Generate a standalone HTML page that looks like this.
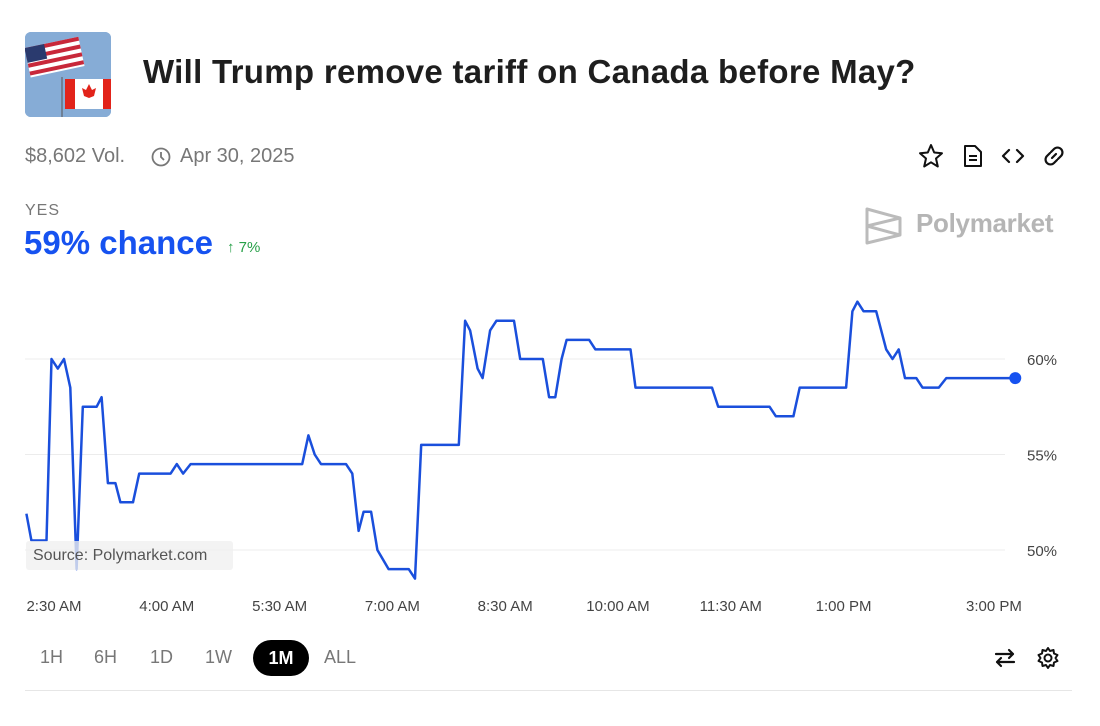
<!DOCTYPE html>
<html><head><meta charset="utf-8">
<style>
body{margin:0;width:1100px;height:726px;background:#fff;font-family:"Liberation Sans",sans-serif;overflow:hidden;position:relative}
.a{position:absolute;white-space:nowrap}
</style></head><body>
<div class="a" style="left:25px;top:32px;width:86px;height:85px;border-radius:6px;overflow:hidden;background:#7ba3cf">
<svg width="86" height="85">
<rect width="86" height="85" fill="#86acd6"/>
<g transform="rotate(-12 30 25)"><rect x="2" y="10" width="55" height="30" fill="#fff"/>
<rect x="2" y="10" width="55" height="4" fill="#c8283a"/><rect x="2" y="18" width="55" height="4" fill="#c8283a"/><rect x="2" y="26" width="55" height="4" fill="#c8283a"/><rect x="2" y="34" width="55" height="4" fill="#c8283a"/>
<rect x="2" y="10" width="20" height="15" fill="#2a3a6e"/></g>
<line x1="37" y1="45" x2="37" y2="85" stroke="#555" stroke-width="1"/>
<rect x="40" y="47" width="46" height="30" fill="#fff"/><rect x="40" y="47" width="10" height="30" fill="#e2231a"/><rect x="78" y="47" width="8" height="30" fill="#e2231a"/>
<path d="M64 52 L67 58 L71 56 L69 64 L64 66 L59 64 L57 56 L61 58 Z" fill="#e2231a"/>
</svg></div>
<div class="a" style="left:143px;top:53px;font-size:33px;font-weight:bold;color:#1e1e1e;letter-spacing:0.3px">Will Trump remove tariff on Canada before May?</div>
<div class="a" style="left:25px;top:145px;font-size:20px;color:#777">$8,602 Vol.</div>
<svg class="a" style="left:151px;top:147px" width="20" height="20"><circle cx="10" cy="10" r="8.5" fill="none" stroke="#777" stroke-width="1.8"/><path d="M10 5 V10 L13 13" fill="none" stroke="#777" stroke-width="1.8"/></svg>
<div class="a" style="left:180px;top:145px;font-size:20px;color:#777">Apr 30, 2025</div>
<svg class="a" style="left:918px;top:143px" width="26" height="26"><path d="M13 2 L16.2 9.5 L24 10.2 L18 15.5 L19.8 23.5 L13 19.3 L6.2 23.5 L8 15.5 L2 10.2 L9.8 9.5 Z" fill="none" stroke="#111" stroke-width="2" stroke-linejoin="round"/></svg>
<svg class="a" style="left:962px;top:144px" width="22" height="24"><path d="M3 2 H13 L19 8 V22 H3 Z" fill="none" stroke="#111" stroke-width="2" stroke-linejoin="round"/><path d="M7 12 H15 M7 16 H15" stroke="#111" stroke-width="2"/></svg>
<svg class="a" style="left:1001px;top:146px" width="24" height="20"><path d="M8 4 L2 10 L8 16 M16 4 L22 10 L16 16" fill="none" stroke="#111" stroke-width="2.2" stroke-linecap="round" stroke-linejoin="round"/></svg>
<svg class="a" style="left:1042px;top:144px" width="24" height="24"><path d="M10 14 L14 10 M9 8 L12 5 A4 4 0 0 1 19 12 L16 15 M15 16 L12 19 A4 4 0 0 1 5 12 L8 9" fill="none" stroke="#111" stroke-width="2.2" stroke-linecap="round"/></svg>
<div class="a" style="left:25px;top:202px;font-size:16px;color:#777;letter-spacing:1px">YES</div>
<div class="a" style="left:24px;top:224px;font-size:33px;font-weight:bold;color:#1652f0">59% chance</div>
<div class="a" style="left:227px;top:239px;font-size:15px;color:#27a048">↑ 7%</div>
<svg class="a" style="left:864px;top:205px" width="40" height="40"><path d="M3 4 L36 13 V30 L3 38 Z M3 21 L36 13 M3 21 L36 30" fill="none" stroke="#bbb" stroke-width="3" stroke-linejoin="round"/></svg>
<div class="a" style="left:916px;top:208px;font-size:26px;color:#b5b5b5;font-weight:bold;letter-spacing:-0.3px">Polymarket</div>

<svg class="a" id="chart" style="left:0;top:0" width="1100" height="726"></svg>

<div class="a" style="left:26px;top:541px;width:207px;height:29px;background:rgba(240,240,240,0.78);border-radius:3px;font-size:16px;color:#555;line-height:29px;padding-left:7px;box-sizing:border-box">Source: Polymarket.com</div>

<div class="a" style="left:40px;top:647px;font-size:18px;color:#777">1H</div>
<div class="a" style="left:94px;top:647px;font-size:18px;color:#777">6H</div>
<div class="a" style="left:150px;top:647px;font-size:18px;color:#777">1D</div>
<div class="a" style="left:205px;top:647px;font-size:18px;color:#777">1W</div>
<div class="a" style="left:253px;top:640px;width:56px;height:36px;border-radius:18px;background:#000;color:#fff;font-size:18px;font-weight:bold;text-align:center;line-height:36px">1M</div>
<div class="a" style="left:324px;top:647px;font-size:18px;color:#777">ALL</div>
<svg class="a" style="left:993px;top:646px" width="24" height="24"><path d="M3 8 H20 M16 4 L20 8 L16 12 M21 16 H4 M8 12 L4 16 L8 20" fill="none" stroke="#111" stroke-width="2.2" stroke-linecap="round" stroke-linejoin="round"/></svg>
<svg class="a" style="left:1036px;top:646px" width="24" height="24"><circle cx="12" cy="12" r="3.5" fill="none" stroke="#111" stroke-width="2"/><path d="M12 2 L14 5 L17.5 4 L18 7.5 L21.5 9 L19.5 12 L21.5 15 L18 16.5 L17.5 20 L14 19 L12 22 L10 19 L6.5 20 L6 16.5 L2.5 15 L4.5 12 L2.5 9 L6 7.5 L6.5 4 L10 5 Z" fill="none" stroke="#111" stroke-width="2" stroke-linejoin="round"/></svg>
<div class="a" style="left:25px;top:690px;width:1047px;height:1px;background:#e6e6e6"></div>

<script>
const times=[-22,-18,-6,-2,3,8,13,18,23,34,38,43,49,53,63,68,93,98,103,109,198,203,208,213,233,238,243,247,253,258,267,283,288,293,323,328,332,338,342,348,353,367,372,390,395,400,405,409,427,432,460,464,525,530,571,576,590,595,632,637,641,646,656,664,669,674,679,688,693,706,712,740,767];
const values=[51.9,50.5,50.5,60,59.5,60,58.5,49,57.5,57.5,58,53.5,53.5,52.5,52.5,54,54,54.5,54,54.5,54.5,56,55,54.5,54.5,54,51,52,52,50,49,49,48.5,55.5,55.5,62,61.5,59.5,59,61.5,62,62,60,60,58,58,60,61,61,60.5,60.5,58.5,58.5,57.5,57.5,57,57,58.5,58.5,62.5,63,62.5,62.5,60.5,60,60.5,59,59,58.5,58.5,59,59,59];
const yTicks=[60,55,50];
const yTickLabels=["60%","55%","50%"];
const xTicks=[0,90,180,270,360,450,540,630,750];
const xTickLabels=["2:30 AM","4:00 AM","5:30 AM","7:00 AM","8:30 AM","10:00 AM","11:30 AM","1:00 PM","3:00 PM"];
const NS="http://www.w3.org/2000/svg";
const svg=document.getElementById('chart');
const xs=t=>54+t*1.2533;
const ys=v=>359+(60-v)*19.1;
function mk(tag,attrs){const e=document.createElementNS(NS,tag);for(const k in attrs)e.setAttribute(k,attrs[k]);svg.appendChild(e);return e;}
yTicks.forEach((v,i)=>{
  const g=mk('line',{x1:25,x2:1005,y1:ys(v),y2:ys(v),stroke:'#ececec','stroke-width':1});
  
  
  const t=mk('text',{x:1027,y:ys(v)+6,'font-size':15,fill:'#444','font-family':'Liberation Sans, sans-serif'});
  t.textContent=yTickLabels[i];
  
  
});
xTicks.forEach((m,i)=>{
  const t=mk('text',{x:xs(m),y:611,'font-size':15,fill:'#444','text-anchor':'middle','font-family':'Liberation Sans, sans-serif'});
  t.textContent=xTickLabels[i];
  
  
});
const d=times.map((t,i)=>(i?'L':'M')+xs(t).toFixed(1)+' '+ys(values[i]).toFixed(1)).join(' ');
const p=mk('path',{d:d,fill:'none',stroke:'#1a4fdc','stroke-width':2.5,'stroke-linejoin':'round'});


const n=times.length-1;
const c=mk('circle',{cx:xs(times[n]),cy:ys(values[n]),r:6,fill:'#1652f0'});


</script>
</body></html>
